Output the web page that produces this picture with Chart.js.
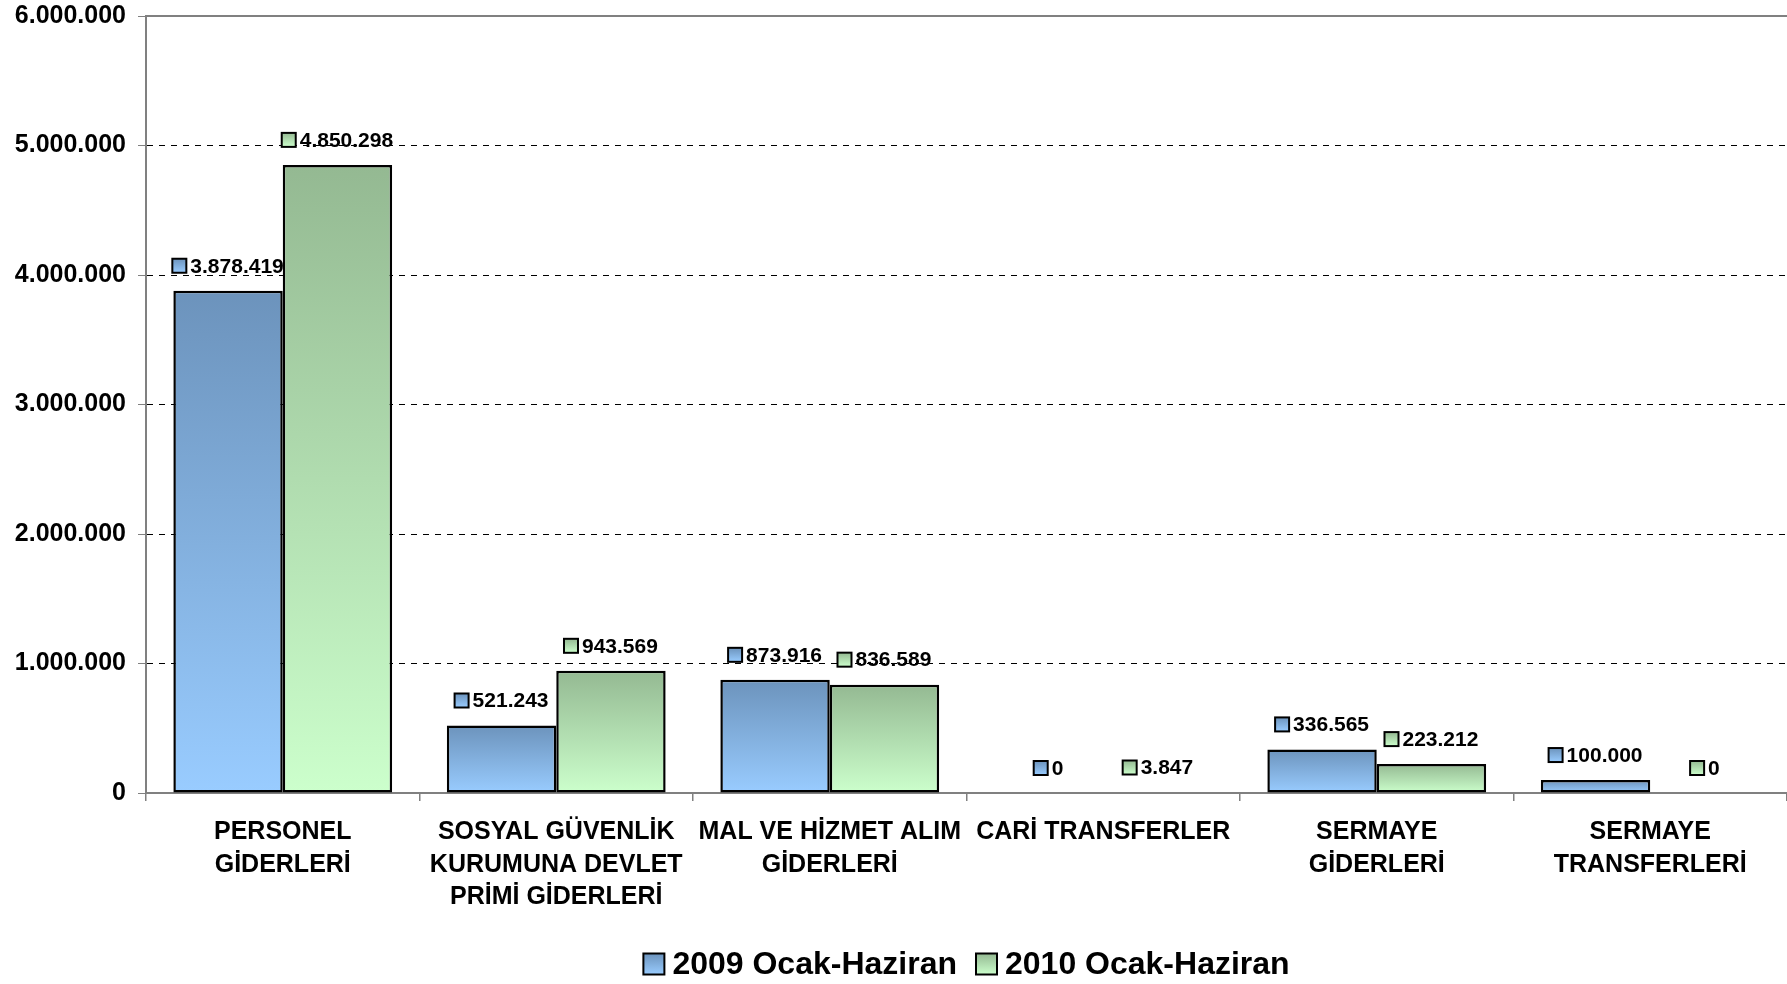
<!DOCTYPE html>
<html>
<head>
<meta charset="utf-8">
<title>Giderler</title>
<script src="https://cdn.jsdelivr.net/npm/chart.js@4.4.1/dist/chart.umd.min.js"></script>
<style>
  html, body { margin: 0; padding: 0; background: #fff; }
  canvas { display: block; }
</style>
</head>
<body>
<canvas id="myChart" width="1787" height="984"></canvas>
<script>
const categories = [
  ["PERSONEL", "GİDERLERİ"],
  ["SOSYAL GÜVENLİK", "KURUMUNA DEVLET", "PRİMİ GİDERLERİ"],
  ["MAL VE HİZMET ALIM", "GİDERLERİ"],
  ["CARİ TRANSFERLER"],
  ["SERMAYE", "GİDERLERİ"],
  ["SERMAYE", "TRANSFERLERİ"],
];
const seriesNames = ["2009 Ocak-Haziran", "2010 Ocak-Haziran"];
const values2009 = [3878419, 521243, 873916, 0, 336565, 100000];
const values2010 = [4850298, 943569, 836589, 3847, 223212, 0];
const yTicks = [0, 1000000, 2000000, 3000000, 4000000, 5000000, 6000000];

const FONT = "'Liberation Sans', Arial, sans-serif";
const blueTop = "rgb(108,147,188)";
const blueBottom = "rgb(153,204,255)";
const greenTop = "rgb(148,185,146)";
const greenBottom = "rgb(204,255,204)";

Chart.defaults.font.family = FONT;
Chart.defaults.color = "#000";

function formatNumber(v) {
  return String(v).replace(/\B(?=(\d{3})+(?!\d))/g, ".");
}

// gradient per bar, from its top down to the zero line
function barGradient(topColor, bottomColor) {
  return function (context) {
    const chart = context.chart;
    if (!chart.chartArea || context.raw === undefined) return bottomColor;
    const yScale = chart.scales.y;
    const top = yScale.getPixelForValue(context.raw);
    const base = yScale.getPixelForValue(0);
    if (base - top < 1) return topColor;
    const g = chart.ctx.createLinearGradient(0, top, 0, base);
    g.addColorStop(0, topColor);
    g.addColorStop(1, bottomColor);
    return g;
  };
}

function boxGradient(ctx, y, h, topColor, bottomColor) {
  const g = ctx.createLinearGradient(0, y, 0, y + h);
  g.addColorStop(0, topColor);
  g.addColorStop(1, bottomColor);
  return g;
}

const colorPairs = [
  [blueTop, blueBottom],
  [greenTop, greenBottom],
];

function drawKey(ctx, x, y, size, i) {
  ctx.fillStyle = boxGradient(ctx, y, size, colorPairs[i][0], colorPairs[i][1]);
  ctx.fillRect(x, y, size, size);
  ctx.lineWidth = 2;
  ctx.strokeStyle = "#000";
  ctx.strokeRect(x, y, size, size);
}

// --- value labels with small key box --- //
const valueLabels = {
  id: "valueLabels",
  afterDatasetsDraw(chart) {
    const ctx = chart.ctx;
    ctx.save();
    ctx.font = "bold 21px " + FONT;
    ctx.textBaseline = "middle";
    ctx.textAlign = "left";
    chart.data.datasets.forEach((dataset, i) => {
      const meta = chart.getDatasetMeta(i);
      meta.data.forEach((bar, j) => {
        const text = formatNumber(dataset.data[j]);
        const textWidth = ctx.measureText(text).width;
        const total = 14 + 4 + textWidth;
        const left = bar.x - total / 2;
        const cy = bar.y - 25;
        drawKey(ctx, left, cy - 7, 14, i);
        ctx.fillStyle = "#000";
        ctx.fillText(text, left + 18, cy + 1);
      });
    });
    ctx.restore();
  },
};

// --- legend under the axis, centred on the plot area --- //
const bottomLegend = {
  id: "bottomLegend",
  afterDraw(chart) {
    const ctx = chart.ctx;
    const area = chart.chartArea;
    ctx.save();
    ctx.font = "bold 32px " + FONT;
    ctx.textBaseline = "middle";
    ctx.textAlign = "left";
    const widths = chart.data.datasets.map((ds) => 21 + 8 + ctx.measureText(ds.label).width);
    const gap = 19;
    const total = widths.reduce((a, b) => a + b, 0) + gap * (widths.length - 1);
    let x = (area.left + area.right) / 2 - total / 2;
    const cy = chart.height - 20;
    chart.data.datasets.forEach((ds, i) => {
      drawKey(ctx, x, cy - 10.5, 21, i);
      ctx.fillStyle = "#000";
      ctx.fillText(ds.label, x + 29, cy + 1);
      x += widths[i] + gap;
    });
    ctx.restore();
  },
};

const ctx = document.getElementById("myChart");

new Chart(ctx, {
  type: "bar",
  data: {
    labels: categories,
    datasets: [
      {
        label: seriesNames[0],
        data: values2009,
        backgroundColor: barGradient(blueTop, blueBottom),
        borderColor: "#000",
        borderWidth: 2.5,
        borderSkipped: false,
        categoryPercentage: 0.8,
        barPercentage: 1.0,
      },
      {
        label: seriesNames[1],
        data: values2010,
        backgroundColor: barGradient(greenTop, greenBottom),
        borderColor: "#000",
        borderWidth: 2.5,
        borderSkipped: false,
        categoryPercentage: 0.8,
        barPercentage: 1.0,
      },
    ],
  },
  options: {
    responsive: false,
    animation: false,
    layout: {
      padding: { top: 16, left: 0, right: 0, bottom: 41 },
    },
    scales: {
      x: {
        position: "bottom",
        offset: true,
        afterFit(scale) {
          scale.height = 150;
        },
        grid: {
          offset: true,
          drawOnChartArea: false,
          drawTicks: true,
          tickLength: 8,
          color: "#808080",
          tickColor: "#808080",
          lineWidth: 1.5,
        },
        border: { color: "#808080", width: 2 },
        ticks: {
          autoSkip: false,
          maxRotation: 0,
          minRotation: 0,
          padding: 14.5,
          color: "#000",
          font: { size: 25, weight: "bold", lineHeight: 1.31 },
        },
      },
      top: {
        type: "category",
        position: "top",
        labels: categories,
        afterFit(scale) {
          scale.height = 0;
        },
        grid: { display: false, drawTicks: false },
        ticks: { display: false },
        border: { color: "#808080", width: 2 },
      },
      y: {
        min: 0,
        max: 6000000,
        afterFit(scale) {
          scale.width = 146;
          scale.paddingTop = 0;
          scale.paddingBottom = 0;
        },
        afterBuildTicks(scale) {
          scale.ticks = yTicks.map((v) => ({ value: v }));
        },
        grid: {
          color: (c) =>
            c.tick && (c.tick.value === 0 || c.tick.value === 6000000)
              ? "rgba(0,0,0,0)"
              : "#000",
          tickColor: "#808080",
          tickLength: 8,
          lineWidth: 1,
        },
        border: { color: "#808080", width: 2, dash: [6, 6] },
        ticks: {
          padding: 12,
          color: "#000",
          font: { size: 25, weight: "bold" },
          callback: (v) => formatNumber(v),
        },
      },
    },
    plugins: {
      legend: { display: false },
      tooltip: { enabled: false },
    },
  },
  plugins: [valueLabels, bottomLegend],
});
</script>
</body>
</html>
